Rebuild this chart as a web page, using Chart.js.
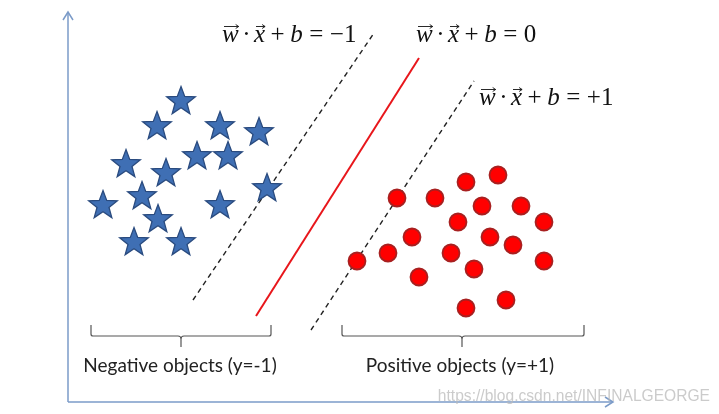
<!DOCTYPE html>
<html>
<head>
<meta charset="utf-8">
<script src="https://cdn.jsdelivr.net/npm/chart.js@4"></script>
<style>
  body { margin: 0; background: #fff; }
  #wrap { width: 719px; height: 414px; position: relative; }
</style>
</head>
<body>
<div id="wrap"><canvas id="svmChart"></canvas></div>
<script>
// negative class (stars)
var starX = [113, 89, 152, 191, 58, 129, 160, 98, 199, 35, 74, 152, 90, 66, 113];
var starY = [302, 277, 277, 271, 239, 247, 247, 230, 215, 198, 207, 198, 184, 161, 161];

// positive class (circles)
var circleX = [329, 367, 398, 430, 414, 453, 390, 476, 344, 422, 445, 320, 383, 289, 476, 406, 351, 398, 438];
var circleY = [204, 204, 220, 227, 196, 196, 180, 180, 165, 165, 157, 149, 149, 141, 141, 133, 125, 94, 102];

// separating lines, [start, end]
var negLineX = [125, 306], negLineY = [102, 369];
var hyperX = [188, 351], hyperY = [86, 344];
var posLineX = [243, 406], posLineY = [72, 321];

// axes
var yAxisLine = [0, 390];
var xAxisLine = [0, 545];

// text
var eqLabels = [
  { rhs: '\u22121', x: 154, y: 360 },
  { rhs: '0', x: 348, y: 360 },
  { rhs: '+1', x: 411, y: 297 }
];
var groupLabels = ['Negative objects (y=-1)', 'Positive objects (y=+1)'];
var braceFrom = [23, 274], braceTo = [203, 516], braceMid = [113, 394];
var watermark = 'https://blog.csdn.net/INFINALGEORGE';

function zip(xs, ys) {
  return xs.map(function (x, i) { return { x: x, y: ys[i] }; });
}

// filled star marker
function makeStar(r) {
  var c = document.createElement('canvas');
  var s = Math.ceil(r * 2 + 4);
  c.width = s; c.height = s;
  var g = c.getContext('2d');
  var cx = s / 2, cy = s / 2 + 1.5;
  g.beginPath();
  for (var i = 0; i < 10; i++) {
    var rad = i % 2 === 0 ? r : r * 0.42;
    var a = -Math.PI / 2 + i * Math.PI / 5;
    var px = cx + rad * Math.cos(a), py = cy + rad * Math.sin(a);
    if (i === 0) g.moveTo(px, py); else g.lineTo(px, py);
  }
  g.closePath();
  g.fillStyle = '#3f6fb4';
  g.fill();
  g.lineWidth = 1.3;
  g.strokeStyle = '#2a4b7f';
  g.stroke();
  return c;
}
var starImg = makeStar(15);

function lineSet(xs, ys, color, width, dash) {
  return {
    type: 'line',
    data: zip(xs, ys),
    borderColor: color,
    borderWidth: width,
    borderDash: dash,
    pointRadius: 0,
    fill: false,
    tension: 0,
    order: 2
  };
}

function drawEquation(ctx, left, base, rhs) {
  ctx.save();
  ctx.fillStyle = '#111';
  ctx.strokeStyle = '#111';
  var x = left;
  var parts = [
    { t: 'w', it: true, vec: true, g: 3.5 },
    { t: '\u00b7', g: 3.5 },
    { t: 'x', it: true, vec: true, g: 5.5 },
    { t: '+', g: 5.5 },
    { t: 'b', it: true, g: 6.5 },
    { t: '=', g: 6.5 },
    { t: rhs, g: 0 }
  ];
  parts.forEach(function (p) {
    ctx.font = (p.it ? 'italic ' : '') + '25px "Liberation Serif"';
    ctx.textBaseline = 'alphabetic';
    ctx.textAlign = 'left';
    var w = ctx.measureText(p.t).width;
    ctx.fillText(p.t, x, base);
    if (p.vec) {
      var ay = base - 15.5;
      var x0 = x + 2, x1 = x + w;
      ctx.lineWidth = 0.9;
      ctx.beginPath();
      ctx.moveTo(x0, ay); ctx.lineTo(x1, ay);
      ctx.moveTo(x1 - 3, ay - 2); ctx.lineTo(x1, ay); ctx.lineTo(x1 - 3, ay + 2);
      ctx.stroke();
    }
    x += w + p.g;
  });
  ctx.restore();
}

var decorPlugin = {
  id: 'decor',
  afterDatasetsDraw: function (chart) {
    var ctx = chart.ctx;
    var sx = chart.scales.x, sy = chart.scales.y;

    // axis arrowheads
    ctx.save();
    ctx.strokeStyle = '#7b9bc8';
    ctx.lineWidth = 1.5;
    var tx = sx.getPixelForValue(0), ty = sy.getPixelForValue(yAxisLine[1]);
    ctx.beginPath();
    ctx.moveTo(tx - 5, ty + 8); ctx.lineTo(tx, ty); ctx.lineTo(tx + 5, ty + 8);
    var hx = sx.getPixelForValue(xAxisLine[1]), hy = sy.getPixelForValue(0);
    ctx.moveTo(hx - 8, hy - 5); ctx.lineTo(hx, hy); ctx.lineTo(hx - 8, hy + 5);
    ctx.stroke();
    ctx.restore();

    // equations
    eqLabels.forEach(function (e) {
      drawEquation(ctx, sx.getPixelForValue(e.x), sy.getPixelForValue(e.y), e.rhs);
    });

    // braces + group labels
    ctx.save();
    ctx.strokeStyle = '#555';
    ctx.lineWidth = 1.2;
    for (var i = 0; i < 2; i++) {
      var a = sx.getPixelForValue(braceFrom[i]), b = sx.getPixelForValue(braceTo[i]);
      var m = sx.getPixelForValue(braceMid[i]);
      var yl = sy.getPixelForValue(66), yt = sy.getPixelForValue(77), yd = sy.getPixelForValue(55);
      ctx.beginPath();
      ctx.moveTo(a, yt);
      ctx.lineTo(a, yl - 2);
      ctx.quadraticCurveTo(a, yl, a + 2, yl);
      ctx.lineTo(m - 3, yl);
      ctx.quadraticCurveTo(m, yl, m, yl + 3);
      ctx.lineTo(m, yd);
      ctx.moveTo(m, yl + 3);
      ctx.quadraticCurveTo(m, yl, m + 3, yl);
      ctx.lineTo(b - 2, yl);
      ctx.quadraticCurveTo(b, yl, b, yl - 2);
      ctx.lineTo(b, yt);
      ctx.stroke();

      ctx.fillStyle = '#222';
      ctx.font = '19px Lato';
      ctx.textAlign = 'center';
      ctx.textBaseline = 'alphabetic';
      ctx.fillText(groupLabels[i], i === 0 ? m - 1 : m - 2, sy.getPixelForValue(30));
    }
    ctx.restore();

    // watermark
    ctx.save();
    ctx.fillStyle = 'rgba(185,185,185,0.75)';
    ctx.font = '15.6px "Liberation Sans"';
    ctx.textAlign = 'right';
    ctx.textBaseline = 'alphabetic';
    ctx.fillText(watermark, 710, 401);
    ctx.restore();
  }
};

var ctx = document.getElementById('svmChart').getContext('2d');
var svmChart = new Chart(ctx, {
  type: 'scatter',
  data: {
    datasets: [
      {
        label: 'negative',
        data: zip(starX, starY),
        pointStyle: starImg,
        pointRadius: 15,
        order: 0
      },
      {
        label: 'positive',
        data: zip(circleX, circleY),
        pointStyle: 'circle',
        pointRadius: 8.5,
        backgroundColor: '#ff0000',
        borderColor: '#a82020',
        borderWidth: 1.8,
        order: 0
      },
      lineSet(negLineX, negLineY, '#222', 1.4, [5, 4]),
      lineSet(hyperX, hyperY, '#e8161b', 2, []),
      lineSet(posLineX, posLineY, '#222', 1.4, [5, 4]),
      lineSet([0, 0], yAxisLine, '#7b9bc8', 1.5, []),
      lineSet(xAxisLine, [0, 0], '#7b9bc8', 1.5, [])
    ]
  },
  options: {
    responsive: true,
    maintainAspectRatio: false,
    animation: false,
    layout: { padding: 0, autoPadding: false },
    plugins: {
      legend: { display: false },
      tooltip: { enabled: false }
    },
    scales: {
      x: { type: 'linear', min: -68, max: 651, display: false },
      y: { type: 'linear', min: -12, max: 402, display: false }
    }
  },
  plugins: [decorPlugin]
});
</script>
</body>
</html>
